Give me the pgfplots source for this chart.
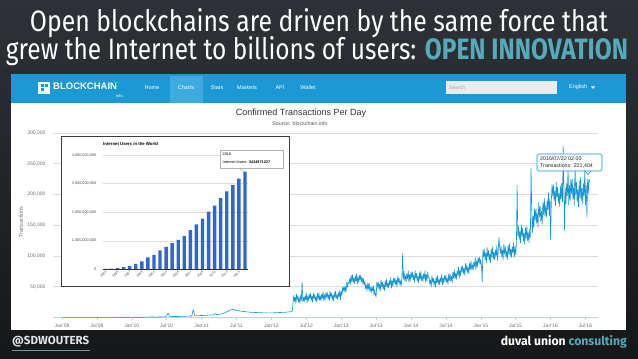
\documentclass[border=0pt]{standalone}
\usepackage{pgfplots}
\pgfplotsset{compat=1.18}
\usepackage{fontspec}
\setmainfont{Liberation Sans}
\newfontfamily\titlefont{Fira Sans}
\definecolor{bgtop}{RGB}{46,50,55}
\definecolor{bgbot}{RGB}{22,23,25}
\definecolor{teal}{RGB}{86,170,186}
\definecolor{navblue}{RGB}{28,152,212}
\definecolor{navtab}{RGB}{62,171,224}
\definecolor{searchbox}{RGB}{232,236,239}
\definecolor{linecol}{RGB}{22,150,210}
\definecolor{gridgray}{RGB}{220,220,220}
\definecolor{axisblue}{RGB}{192,208,224}
\definecolor{labelgray}{RGB}{110,110,110}
\definecolor{barblue}{RGB}{51,102,204}
\definecolor{insetborder}{RGB}{60,60,60}
\definecolor{footwhite}{RGB}{225,228,230}
\definecolor{underl}{RGB}{120,150,165}
\begin{document}
\begin{tikzpicture}[x=1pt,y=1pt]
\path[use as bounding box] (0,0) rectangle (638,359);
\shade[top color=bgtop, bottom color=bgbot] (0,0) rectangle (638,359);
% titles
\node[anchor=base, text=white, inner sep=0] at (319,327) {\resizebox{578pt}{23pt}{\titlefont Open blockchains are driven by the same force that}};
\node[anchor=base, text=white, inner sep=0] at (317,299) {\resizebox{622pt}{23pt}{\titlefont grew the Internet to billions of users: \textcolor{teal}{\bfseries OPEN INNOVATION}}};
% screenshot panel
\fill[white] (11,29) rectangle (626,285);
\fill[navblue] (11,256) rectangle (626,285);
\fill[navtab] (170,256) rectangle (203,283);
% logo
\fill[white] (38,265) rectangle (50,277);
\fill[navblue] (40.5,267.5) rectangle (43.5,270.5);
\fill[navblue] (44.5,271.5) rectangle (47.5,274.5);
\fill[navblue] (40.5,271.5) rectangle (43.5,274.5);
\node[anchor=west, text=white, inner sep=0, font=\fontsize{9.5}{10}\selectfont\bfseries] at (53,272.5) {BLOCKCHAIN};
\node[anchor=east, text=white, inner sep=0, font=\fontsize{4}{4}\selectfont] at (123,263) {info};
\begin{scope}[every node/.style={text=white, inner sep=0, font=\fontsize{5.5}{6}\selectfont}]
\node at (152,271.7) {Home};
\node at (186,271.7) {Charts};
\node at (217,271.7) {Stats};
\node at (247,271.7) {Markets};
\node at (280,271.7) {API};
\node at (308,271.7) {Wallet};
\node[anchor=west] at (569,271.7) {English};
\end{scope}
\fill[white] (591,272.5) -- (595,272.5) -- (593,270.2) -- cycle;
\fill[searchbox] (446,265) rectangle (557,278);
\node[anchor=west, text=gray!70, inner sep=0, font=\fontsize{5}{6}\selectfont] at (449,271.5) {Search};
% chart title
\node[text=black!80, inner sep=0, font=\fontsize{9}{10}\selectfont] at (301,246) {Confirmed Transactions Per Day};
\node[text=black!65, inner sep=0, font=\fontsize{5.3}{6}\selectfont] at (300,235) {Source: blockchain.info};
\node[rotate=90, text=labelgray, inner sep=0, font=\fontsize{5.5}{6}\selectfont] at (21,137) {Transactions};
% main axis
\begin{axis}[
  at={(53pt,226pt)}, anchor=north west, scale only axis,
  width=545pt, height=184.5pt,
  xmin=2008.871, xmax=2016.679, ymin=0, ymax=300,
  axis x line*=bottom, axis y line*=left,
  x axis line style={draw=axisblue, line width=0.6pt, -},
  y axis line style={draw=none},
  ytick style={draw=none},
  xtick style={draw=axisblue, line width=0.5pt},
  tick align=outside, major tick length=3pt,
  ymajorgrids, grid style={gridgray, line width=0.5pt},
  ytick={50,100,150,200,250,300},
  yticklabels={{50,000},{100,000},{150,000},{200,000},{250,000},{300,000}},
  xtick={2009,2009.5,2010,2010.5,2011,2011.5,2012,2012.5,2013,2013.5,2014,2014.5,2015,2015.5,2016,2016.5},
  xticklabels={Jan'09,Jul'09,Jan'10,Jul'10,Jan'11,Jul'11,Jan'12,Jul'12,Jan'13,Jul'13,Jan'14,Jul'14,Jan'15,Jul'15,Jan'16,Jul'16},
  ticklabel style={font=\fontsize{5}{6}\selectfont, text=labelgray},
  yticklabel style={xshift=-1pt},
  /pgf/number format/assume math mode=true,
]
\addplot[linecol, line width=0.6pt, line join=round] table {
2009.01 0.1
2009.1 0.1
2009.2 0.2
2009.3 0.1
2009.4 0.2
2009.5 0.2
2009.6 0.3
2009.7 0.2
2009.8 0.3
2009.9 0.4
2010.0 0.3
2010.1 0.4
2010.2 0.5
2010.27 0.6
2010.29 1.5
2010.31 0.6
2010.4 0.8
2010.48 1.0
2010.5 3.0
2010.52 7.0
2010.54 2.0
2010.6 1.5
2010.7 1.8
2010.8 2.2
2010.86 2.5
2010.87 8.0
2010.88 12.5
2010.89 9.0
2010.9 3.0
2011.0 3.2
2011.1 3.8
2011.18 4.5
2011.2 6.5
2011.22 4.8
2011.3 6.0
2011.36 9.0
2011.42 12.5
2011.45 13.5
2011.48 12.0
2011.55 10.5
2011.62 9.5
2011.7 8.5
2011.8 8.0
2011.9 7.5
2012.0 7.5
2012.1 8.0
2012.2 8.5
2012.28 9.5
2012.3 11.0
2012.32 36
2012.33 26
2012.34 33
2012.35 23
2012.36 38
2012.37 29
2012.38 35
2012.39 25
2012.40 32
2012.41 23
2012.42 37
2012.43 28
2012.44 58
2012.45 26
2012.46 33
2012.47 25
2012.48 35
2012.49 29
2012.50 40
2012.51 24
2012.52 35
2012.53 27
2012.54 38
2012.55 31
2012.56 39
2012.57 28
2012.58 35
2012.59 25
2012.60 40
2012.61 31
2012.62 37
2012.63 27
2012.64 34
2012.65 25
2012.66 39
2012.67 30
2012.68 40
2012.69 28
2012.70 35
2012.71 27
2012.72 38
2012.73 31
2012.74 42
2012.75 27
2012.76 37
2012.77 29
2012.78 40
2012.79 33
2012.80 41
2012.81 30
2012.82 37
2012.83 27
2012.84 43
2012.85 33
2012.86 40
2012.87 29
2012.88 36
2012.89 27
2012.90 41
2012.91 32
2012.92 43
2012.93 31
2012.94 37
2012.95 29
2012.96 40
2012.97 34
2012.98 44
2012.99 29
2013.00 43
2013.01 36
2013.02 49
2013.03 43
2013.04 51
2013.05 42
2013.06 50
2013.07 41
2013.08 58
2013.09 49
2013.10 57
2013.11 56
2013.12 63
2013.13 53
2013.14 68
2013.15 58
2013.16 70
2013.17 57
2013.18 64
2013.19 55
2013.20 67
2013.21 59
2013.22 71
2013.23 54
2013.24 66
2013.25 57
2013.26 69
2013.27 61
2013.28 69
2013.29 58
2013.30 65
2013.31 54
2013.32 63
2013.33 53
2013.34 58
2013.35 47
2013.36 53
2013.37 43
2013.38 56
2013.39 46
2013.40 56
2013.41 43
2013.42 49
2013.43 40
2013.44 50
2013.45 43
2013.46 52
2013.47 36
2013.48 46
2013.49 37
2013.50 33
2013.51 57
2013.52 49
2013.53 58
2013.54 46
2013.55 54
2013.56 43
2013.57 61
2013.58 50
2013.59 58
2013.60 46
2013.61 54
2013.62 44
2013.63 60
2013.64 50
2013.65 62
2013.66 49
2013.67 56
2013.68 48
2013.69 60
2013.70 53
2013.71 65
2013.72 48
2013.73 60
2013.74 51
2013.75 64
2013.76 56
2013.77 64
2013.78 53
2013.79 61
2013.80 50
2013.81 67
2013.82 57
2013.83 64
2013.84 53
2013.85 60
2013.86 51
2013.87 66
2013.88 104
2013.89 62
2013.90 75
2013.91 60
2013.92 68
2013.93 58
2013.94 71
2013.95 63
2013.96 76
2013.97 57
2013.98 70
2013.99 60
2014.00 74
2014.01 65
2014.02 74
2014.03 61
2014.04 69
2014.05 57
2014.06 76
2014.07 64
2014.08 72
2014.09 59
2014.10 67
2014.11 56
2014.12 73
2014.13 62
2014.14 75
2014.15 60
2014.16 68
2014.17 58
2014.18 71
2014.19 63
2014.20 76
2014.21 57
2014.22 70
2014.23 60
2014.24 74
2014.25 65
2014.26 65
2014.27 54
2014.28 61
2014.29 50
2014.30 68
2014.31 57
2014.32 64
2014.33 53
2014.34 60
2014.35 50
2014.36 66
2014.37 56
2014.38 68
2014.39 54
2014.40 62
2014.41 53
2014.42 65
2014.43 58
2014.44 70
2014.45 53
2014.46 64
2014.47 56
2014.48 68
2014.49 60
2014.50 69
2014.51 57
2014.52 64
2014.53 54
2014.54 71
2014.55 60
2014.56 71
2014.57 59
2014.58 67
2014.59 57
2014.60 74
2014.61 64
2014.62 78
2014.63 63
2014.64 72
2014.65 62
2014.66 76
2014.67 69
2014.68 82
2014.69 64
2014.70 77
2014.71 68
2014.72 83
2014.73 74
2014.74 84
2014.75 71
2014.76 80
2014.77 69
2014.78 88
2014.79 77
2014.80 85
2014.81 73
2014.82 82
2014.83 71
2014.84 89
2014.85 78
2014.86 92
2014.87 78
2014.88 86
2014.89 77
2014.90 90
2014.91 83
2014.92 97
2014.93 78
2014.94 92
2014.95 82
2014.96 97
2014.97 89
2014.98 98
2014.99 86
2015.00 94
2015.01 83
2015.02 58
2015.03 110
2015.04 99
2015.05 111
2015.06 94
2015.07 105
2015.08 89
2015.09 114
2015.10 99
2015.11 109
2015.12 93
2015.13 103
2015.14 89
2015.15 112
2015.16 98
2015.17 115
2015.18 95
2015.19 106
2015.20 93
2015.21 110
2015.22 100
2015.23 117
2015.24 93
2015.25 110
2015.26 130
2015.27 115
2015.28 104
2015.29 116
2015.30 99
2015.31 110
2015.32 94
2015.33 119
2015.34 104
2015.35 115
2015.36 98
2015.37 108
2015.38 94
2015.39 117
2015.40 103
2015.41 120
2015.42 100
2015.43 111
2015.44 98
2015.45 115
2015.46 105
2015.47 122
2015.48 98
2015.49 115
2015.50 102
2015.51 120
2015.52 215
2015.53 133
2015.54 148
2015.55 127
2015.56 140
2015.57 121
2015.58 151
2015.59 132
2015.60 145
2015.61 124
2015.62 137
2015.63 119
2015.64 146
2015.65 129
2015.66 149
2015.67 125
2015.68 138
2015.69 122
2015.70 143
2015.71 130
2015.72 243
2015.73 175
2015.74 138
2015.75 165
2015.76 146
2015.77 176
2015.78 159
2015.79 178
2015.80 153
2015.81 170
2015.82 147
2015.83 187
2015.84 164
2015.85 181
2015.86 156
2015.87 173
2015.88 152
2015.89 187
2015.90 167
2015.91 194
2015.92 165
2015.93 182
2015.94 163
2015.95 190
2015.96 176
2015.97 203
2015.98 166
2015.99 193
2016.00 126
2016.01 188
2016.02 216
2016.03 198
2016.04 216
2016.05 190
2016.06 206
2016.07 182
2016.08 220
2016.09 196
2016.10 212
2016.11 186
2016.12 202
2016.13 180
2016.14 214
2016.15 192
2016.16 218
2016.17 188
2016.18 279
2016.19 205
2016.20 142
2016.21 210
2016.22 185
2016.23 218
2016.24 198
2016.25 245
2016.26 183
2016.27 215
2016.28 190
2016.29 225
2016.30 202
2016.31 225
2016.32 192
2016.33 212
2016.34 182
2016.35 248
2016.36 200
2016.37 220
2016.38 188
2016.39 208
2016.40 180
2016.41 222
2016.42 195
2016.43 228
2016.44 190
2016.45 210
2016.46 185
2016.47 218
2016.48 198
2016.49 240
2016.50 183
2016.51 215
2016.52 163
2016.53 225
2016.54 202
2016.55 225
2016.56 221
};
\end{axis}
% inset panel
\filldraw[fill=white, draw=insetborder, line width=0.7pt] (61,73) rectangle (289,223);
\node[anchor=west, inner sep=0, font=\fontsize{4.3}{5}\selectfont\bfseries] at (103,215) {Internet Users in the World};
\begin{axis}[
  at={(102.7pt,204pt)}, anchor=north west, scale only axis,
  width=145.6pt, height=114.3pt,
  xmin=1992.55, xmax=2016.55, ymin=0, ymax=4,
  axis line style={draw=none}, tick style={draw=none},
  ymajorgrids, grid style={gridgray, line width=0.4pt},
  ytick={0,1,2,3,4},
  yticklabels={0,{1,000,000,000},{2,000,000,000},{3,000,000,000},{4,000,000,000}},
  xtick={1993,1995,1997,1999,2001,2003,2005,2007,2009,2011,2013,2015},
  xticklabels={1993,1995,1997,1999,2001,2003,2005,2007,2009,2011,2013,2015},
  xticklabel style={rotate=40, anchor=north east, font=\fontsize{3.3}{4}\selectfont, text=black!75, inner sep=1pt},
  yticklabel style={font=\fontsize{3.8}{4}\selectfont, text=black!70, xshift=-3pt},
  /pgf/number format/assume math mode=true,
]
\addplot[ybar, bar width=3.4pt, bar shift=0pt, fill=barblue, draw=none] coordinates {
(1993,0.014) (1994,0.025) (1995,0.045) (1996,0.077) (1997,0.121) (1998,0.188)
(1999,0.281) (2000,0.415) (2001,0.502) (2002,0.665) (2003,0.781) (2004,0.913)
(2005,1.03) (2006,1.16) (2007,1.37) (2008,1.57) (2009,1.77) (2010,2.02)
(2011,2.23) (2012,2.49) (2013,2.73) (2014,2.95) (2015,3.17) (2016,3.42)
};
\draw[black!80, line width=0.5pt] (axis cs:1992.55,0) -- (axis cs:2016.55,0);
\end{axis}
% inset tooltip
\draw[gray!70, line width=0.3pt] (238,191) -- (245,187.5);
\filldraw[fill=white, draw=gray!60, line width=0.4pt] (220,191) rectangle (283,209);
\node[anchor=west, inner sep=0, font=\fontsize{3.8}{4}\selectfont] at (222.5,204.5) {2016};
\node[anchor=west, inner sep=0, font=\fontsize{3.8}{4}\selectfont] at (222.5,196.5) {Internet Users: \textbf{3424971237}};
% main tooltip
\filldraw[fill=white, fill opacity=0.85, draw=linecol, line width=0.6pt, rounded corners=1.5pt] (537,188) rectangle (602,205);
\draw[linecol, line width=0.6pt] (585,188) -- (588,184.5) -- (591,188);
\node[anchor=west, inner sep=0, font=\fontsize{5.3}{6}\selectfont, text=black!85] at (540,200) {2016/07/22 02:00};
\node[anchor=west, inner sep=0, font=\fontsize{5.3}{6}\selectfont, text=black!85] at (540,193) {Transactions: 221,404};
% footer
\node[anchor=west, inner sep=0, text=footwhite] at (12,17) {\resizebox{77pt}{8.3pt}{\titlefont\bfseries @SDWOUTERS}};
\draw[underl, line width=0.8pt] (12,9) -- (90,9);
\node[anchor=east, inner sep=0, text=white] at (627,17) {\resizebox{126pt}{10pt}{\titlefont\bfseries duval union \textcolor{teal}{consulting}}};
\end{tikzpicture}
\end{document}
